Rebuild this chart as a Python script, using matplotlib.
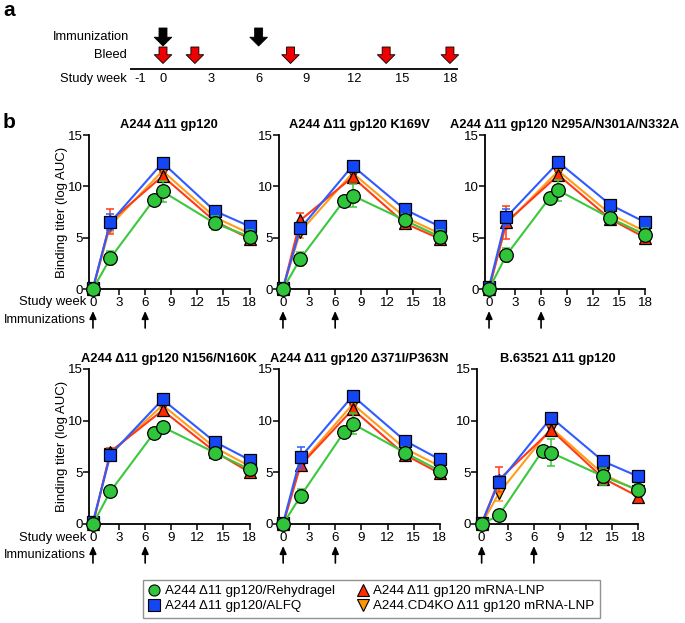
import matplotlib
matplotlib.use("Agg")
import matplotlib.pyplot as plt
from matplotlib.transforms import blended_transform_factory

plt.rcParams["font.family"] = ["Liberation Sans", "DejaVu Sans"]

# ---- panel a: study schedule ----
timeline_ticks = [-1, 0, 3, 6, 9, 12, 15, 18]
immunization_weeks = [0, 6]
bleed_weeks = [0, 2, 8, 14, 18]

# ---- panel b: binding titers (log AUC) ----
titles = [
    "A244 Δ11 gp120",
    "A244 Δ11 gp120 K169V",
    "A244 Δ11 gp120 N295A/N301A/N332A",
    "A244 Δ11 gp120 N156/N160K",
    "A244 Δ11 gp120 Δ371I/P363N",
    "B.63521 Δ11 gp120",
]
weeks = [0, 2, 8, 14, 18]
weeks_green = [0, 2, 7, 8, 14, 18]
xticks = [0, 3, 6, 9, 12, 15, 18]
yticks = [0, 5, 10, 15]

rehydragel = [
    [0, 3.0, 8.7, 9.5, 6.4, 5.1],
    [0, 2.95, 8.6, 9.1, 6.7, 5.1],
    [0, 3.3, 8.9, 9.6, 6.9, 5.3],
    [0, 3.15, 8.8, 9.4, 6.9, 5.3],
    [0, 2.7, 8.9, 9.7, 6.9, 5.15],
    [0, 0.85, 7.1, 6.9, 4.6, 3.3],
]
rehydragel_err = [
    [0, 0.7, 0, 1.0, 0.7, 0.6],
    [0, 0.7, 0, 1.1, 0.6, 0.6],
    [0, 0.7, 0, 1.0, 0.6, 0.6],
    [0, 0.3, 0, 0.3, 0.4, 0.5],
    [0, 0.7, 0, 1.0, 0.6, 0.5],
    [0, 0.2, 0, 1.3, 0.8, 0.6],
]
alfq = [
    [0.1, 6.5, 12.3, 7.6, 6.1],
    [0.1, 5.9, 12.0, 7.75, 6.1],
    [0.2, 7.0, 12.35, 8.2, 6.5],
    [0.2, 6.7, 12.05, 7.95, 6.2],
    [0.1, 6.45, 12.4, 8.05, 6.25],
    [0.1, 4.05, 10.3, 6.05, 4.6],
]
alfq_err = [
    [0, 0.8, 0.3, 0.3, 0.3],
    [0, 0.5, 0.3, 0.3, 0.3],
    [0, 0.8, 0.3, 0.3, 0.3],
    [0, 0.3, 0.3, 0.3, 0.3],
    [0, 1.0, 0.3, 0.3, 0.3],
    [0, 0.6, 0.3, 0.3, 0.3],
]
mrna_lnp = [
    [0, 6.6, 11.0, 6.6, 4.9],
    [0, 6.7, 10.9, 6.4, 4.9],
    [0, 6.5, 11.1, 6.8, 5.0],
    [0, 7.0, 11.0, 7.0, 5.0],
    [0, 5.7, 11.1, 6.7, 4.9],
    [0, 4.3, 9.1, 4.4, 2.65],
]
mrna_lnp_err = [
    [0, 1.2, 0.4, 0.4, 0.4],
    [0, 0.7, 0.4, 0.4, 0.4],
    [0, 1.6, 0.4, 0.4, 0.4],
    [0, 0.4, 0.4, 0.4, 0.4],
    [0, 0.4, 0.4, 0.4, 0.4],
    [0, 1.2, 0.4, 0.4, 0.4],
]
cd4ko_lnp = [
    [0, 6.2, 11.5, 7.0, 5.4],
    [0, 5.6, 11.3, 7.0, 5.4],
    [0, 6.4, 11.5, 7.3, 5.6],
    [0, 6.8, 11.5, 7.4, 5.6],
    [0, 5.8, 11.6, 7.3, 5.6],
    [0, 3.0, 9.3, 4.8, 3.2],
]
cd4ko_lnp_err = [
    [0, 0.6, 0.4, 0.4, 0.4],
    [0, 0.6, 0.4, 0.4, 0.4],
    [0, 0.5, 0.4, 0.4, 0.4],
    [0, 0.4, 0.4, 0.4, 0.4],
    [0, 0.4, 0.4, 0.4, 0.4],
    [0, 0.8, 0.4, 0.4, 0.4],
]
labels = [
    "A244 Δ11 gp120/Rehydragel",
    "A244 Δ11 gp120/ALFQ",
    "A244 Δ11 gp120 mRNA-LNP",
    "A244.CD4KO Δ11 gp120 mRNA-LNP",
]

GREEN, BLUE, RED, ORANGE = "#2fc43a", "#1446f5", "#ff2a00", "#ff9500"
LINE_GREEN, LINE_BLUE, LINE_RED, LINE_ORANGE = "#3cc83c", "#2f5bff", "#ff3b1a", "#ff9d1a"

W, H = 685, 623
fig = plt.figure(figsize=(W / 100, H / 100), dpi=100)


def px_box(x0, y_top, w, h):
    return [x0 / W, 1 - (y_top + h) / H, w / W, h / H]


# ---------------- panel a ----------------
axa = fig.add_axes([0, 1 - 100 / H, 1, 100 / H])
pxw = 15.94
axa.set_xlim(-163 / pxw, (685 - 163) / pxw)
axa.set_ylim(100, 0)
axa.axis("off")
axa.plot([-2.05, 18.5], [69, 69], color="black", lw=1.3, solid_capstyle="butt")
for t in timeline_ticks:
    axa.text(t - (0.45 if t < 0 else 0), 79, str(t), ha="center", va="center", fontsize=9.3)
axa.text(-2.25, 79, "Study week", ha="right", va="center", fontsize=9.3)
axa.text(-2.1, 37, "Immunization", ha="right", va="center", fontsize=9.3)
axa.text(-2.3, 55, "Bleed", ha="right", va="center", fontsize=9.3)
arrow_style = "simple,head_length=0.55,head_width=1.1,tail_width=0.5"
for w in immunization_weeks:
    axa.annotate("", xy=(w, 46), xytext=(w, 28),
                 arrowprops=dict(arrowstyle=arrow_style, fc="black", ec="black", lw=0.6,
                                 mutation_scale=11.5, shrinkA=0, shrinkB=0))
for w in bleed_weeks:
    axa.annotate("", xy=(w, 63.5), xytext=(w, 47),
                 arrowprops=dict(arrowstyle=arrow_style, fc="#ee0000", ec="black", lw=0.6,
                                 mutation_scale=11.5, shrinkA=0, shrinkB=0))
fig.text(3 / W, 1 - 10 / H, "a", fontsize=15, fontweight="bold", ha="left", va="center")
fig.text(3 / W, 1 - 123 / H, "b", fontsize=15, fontweight="bold", ha="left", va="center")

# ---------------- panel b ----------------
ax_w = 161
boxes = [
    px_box(88.6, 135, ax_w, 154),
    px_box(278.6, 135, ax_w, 154),
    px_box(484.7, 135, 160.4, 154),
    px_box(88.6, 369, ax_w, 155),
    px_box(278.8, 369, ax_w, 155),
    px_box(477.3, 369, ax_w, 155),
]

handles = []
for i, box in enumerate(boxes):
    ax = fig.add_axes(box)
    ax.set_xlim(-0.5, 18)
    ax.set_ylim(0, 15)
    for s in ("top", "right"):
        ax.spines[s].set_visible(False)
    for s in ("left", "bottom"):
        ax.spines[s].set_linewidth(1.3)
    ax.set_xticks(xticks)
    ax.set_yticks(yticks)
    ax.tick_params(axis="both", labelsize=9.6, width=1.1, length=4, pad=1.5)
    ax.tick_params(axis="y", pad=0.3)
    ax.set_title(titles[i], fontsize=9.3, fontweight="bold", pad=5)

    series = [
        (weeks, cd4ko_lnp[i], cd4ko_lnp_err[i], ORANGE, LINE_ORANGE, "v", 2),
        (weeks, mrna_lnp[i], mrna_lnp_err[i], RED, LINE_RED, "^", 3),
        (weeks, alfq[i], alfq_err[i], BLUE, LINE_BLUE, "s", 4),
        (weeks_green, rehydragel[i], rehydragel_err[i], GREEN, LINE_GREEN, "o", 5),
    ]
    hs = []
    for x, y, e, fc, lc, mk, z in series:
        ms = {"o": 9.8, "s": 9.0}.get(mk, 9.2)
        ax.errorbar(x, y, yerr=e, fmt="none", ecolor=lc, elinewidth=1.1, capsize=3,
                    capthick=1.1, zorder=z, clip_on=False)
        h, = ax.plot(x, y, color=lc, lw=1.5, marker=mk, ms=ms, mfc=fc, mec="black",
                     mew=0.9, zorder=z + 0.5, clip_on=False)
        hs.append(h)
    if i == 0:
        handles = hs

    trans = blended_transform_factory(ax.transData, ax.transAxes)
    hpx = box[3] * H
    for w in immunization_weeks:
        ax.annotate("", xy=(w, -22 / hpx), xycoords=trans, xytext=(w, -39 / hpx),
                    textcoords=trans,
                    arrowprops=dict(arrowstyle="-|>,head_length=0.45,head_width=0.2",
                                    color="black", lw=1.2, shrinkA=0, shrinkB=0))
    if i in (0, 3):
        ax.set_ylabel("Binding titer (log AUC)", fontsize=9.5, labelpad=-0.5)
        ax.text(-0.012, -13.5 / hpx, "Study week", transform=ax.transAxes,
                ha="right", va="center", fontsize=9.4)
        ax.text(-0.02, -31 / hpx, "Immunizations", transform=ax.transAxes,
                ha="right", va="center", fontsize=9.1)

legend_order = [3, 2, 1, 0]
fig.legend(
    [plt.Line2D([], [], ls="none", marker=handles[k].get_marker(), ms=8,
                mfc=handles[k].get_mfc(), mec="black", mew=0.8) for k in legend_order],
    labels,
    loc="center", bbox_to_anchor=(371.5 / W, 1 - 598.5 / H), ncol=2,
    fontsize=9.6, frameon=True, fancybox=False, edgecolor="#777777",
    handlelength=0.8, handletextpad=0.4, columnspacing=1.7, borderpad=0.4,
    labelspacing=0.2,
)

fig.savefig("out.png", dpi=100)
